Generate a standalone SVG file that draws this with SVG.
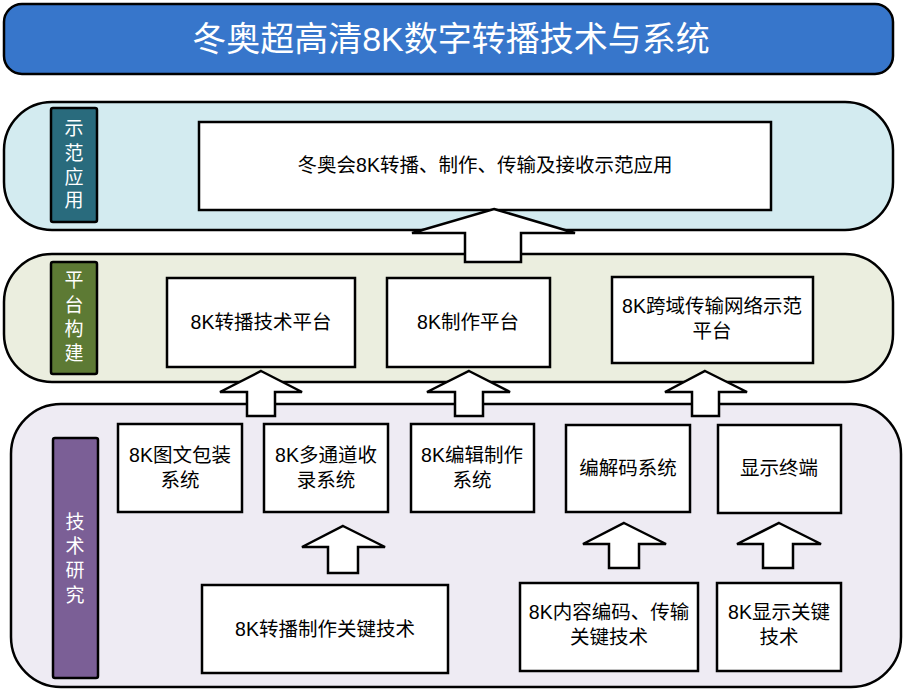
<svg xmlns="http://www.w3.org/2000/svg" width="905" height="693" viewBox="0 0 905 693">
<style>
.band{stroke:#000;stroke-width:2.5}
.box{fill:#fff;stroke:#000;stroke-width:2.5}
.lab{stroke:#000;stroke-width:2.5}
.t{font-family:"Liberation Sans","Noto Sans CJK SC",sans-serif;font-size:19.5px;fill:#000;text-anchor:middle}
.w{font-family:"Liberation Sans","Noto Sans CJK SC",sans-serif;font-size:19px;fill:#fff;text-anchor:middle}
.arr{fill:#fff;stroke:#000;stroke-width:2.5;stroke-linejoin:miter}
</style>
<rect width="905" height="693" fill="#fff"/>
<g id="title">
<rect x="4" y="4" width="889" height="70" rx="18" fill="#3776CB" stroke="#000" stroke-width="2.5"/>
<text x="451" y="51" font-family="'Liberation Sans','Noto Sans CJK SC',sans-serif" font-size="34" fill="#fff" text-anchor="middle">冬奥超高清8K数字转播技术与系统</text>
</g>
<g id="band-demo">
<rect class="band" x="4" y="102" width="889" height="128" rx="48" fill="#D3EBF0"/>
</g>
<g id="band-platform">
<rect class="band" x="4" y="254" width="889" height="128" rx="48" fill="#EBEEDF"/>
</g>
<g id="band-tech">
<rect class="band" x="11" y="404" width="890" height="283" rx="50" fill="#EEEBF3"/>
</g>
<g id="label-demo">
<rect class="lab" x="51" y="108" width="46" height="114" rx="2" fill="#296B7D"/>
<text class="w"><tspan x="74" y="135">示</tspan><tspan x="74" y="160">范</tspan><tspan x="74" y="184">应</tspan><tspan x="74" y="207">用</tspan></text>
</g>
<g id="label-platform">
<rect class="lab" x="51" y="262" width="46" height="112" rx="2" fill="#5D7A34"/>
<text class="w"><tspan x="74" y="287">平</tspan><tspan x="74" y="312">台</tspan><tspan x="74" y="336">构</tspan><tspan x="74" y="360">建</tspan></text>
</g>
<g id="label-tech">
<rect class="lab" x="53" y="438" width="45" height="240" rx="2" fill="#7B5F96"/>
<text class="w"><tspan x="75" y="529">技</tspan><tspan x="75" y="553">术</tspan><tspan x="75" y="577">研</tspan><tspan x="75" y="602">究</tspan></text>
</g>
<g id="app">
<rect class="box" x="199" y="122" width="572" height="88"/>
<text class="t" x="485" y="172">冬奥会8K转播、制作、传输及接收示范应用</text>
</g>
<g id="p1">
<rect class="box" x="167" y="278" width="188" height="89"/>
<text class="t" x="261" y="329">8K转播技术平台</text>
</g>
<g id="p2">
<rect class="box" x="387" y="278" width="163" height="89"/>
<text class="t" x="468" y="329">8K制作平台</text>
</g>
<g id="p3">
<rect class="box" x="612" y="277" width="201" height="86"/>
<text class="t"><tspan x="712" y="313">8K跨域传输网络示范</tspan><tspan x="712" y="338">平台</tspan></text>
</g>
<g id="s1">
<rect class="box" x="118" y="424" width="124" height="88"/>
<text class="t"><tspan x="180" y="462">8K图文包装</tspan><tspan x="180" y="487">系统</tspan></text>
</g>
<g id="s2">
<rect class="box" x="264" y="424" width="124" height="88"/>
<text class="t"><tspan x="326" y="462">8K多通道收</tspan><tspan x="326" y="487">录系统</tspan></text>
</g>
<g id="s3">
<rect class="box" x="411" y="424" width="123" height="88"/>
<text class="t"><tspan x="472" y="462">8K编辑制作</tspan><tspan x="472" y="487">系统</tspan></text>
</g>
<g id="s4">
<rect class="box" x="566" y="425" width="124" height="87"/>
<text class="t" x="628" y="475">编解码系统</text>
</g>
<g id="s5">
<rect class="box" x="718" y="425" width="123" height="88"/>
<text class="t" x="779" y="475">显示终端</text>
</g>
<g id="k1">
<rect class="box" x="202" y="585" width="246" height="88"/>
<text class="t" x="325" y="636">8K转播制作关键技术</text>
</g>
<g id="k2">
<rect class="box" x="520" y="583" width="178" height="88"/>
<text class="t"><tspan x="609" y="619">8K内容编码、传输</tspan><tspan x="609" y="644">关键技术</tspan></text>
</g>
<g id="k3">
<rect class="box" x="717" y="583" width="124" height="88"/>
<text class="t"><tspan x="779" y="619">8K显示关键</tspan><tspan x="779" y="644">技术</tspan></text>
</g>
<g id="connectors">
<polygon class="arr" points="494,209 575,233 521,233 521,262 465,262 465,233 412,233"/>
<polygon class="arr" points="261,371 302,392 275,392 275,416 247,416 247,392 220,392"/>
<polygon class="arr" points="469,371 510,392 483,392 483,416 455,416 455,392 427,392"/>
<polygon class="arr" points="705,371 747,392 719,392 719,416 692,416 692,392 665,392"/>
<polygon class="arr" points="343,526 385,547 358,547 358,573 328,573 328,547 302,547"/>
<polygon class="arr" points="624,523 666,544 639,544 639,568 609,568 609,544 583,544"/>
<polygon class="arr" points="779,523 821,544 793,544 793,568 763,568 763,544 737,544"/>
</g>
</svg>
